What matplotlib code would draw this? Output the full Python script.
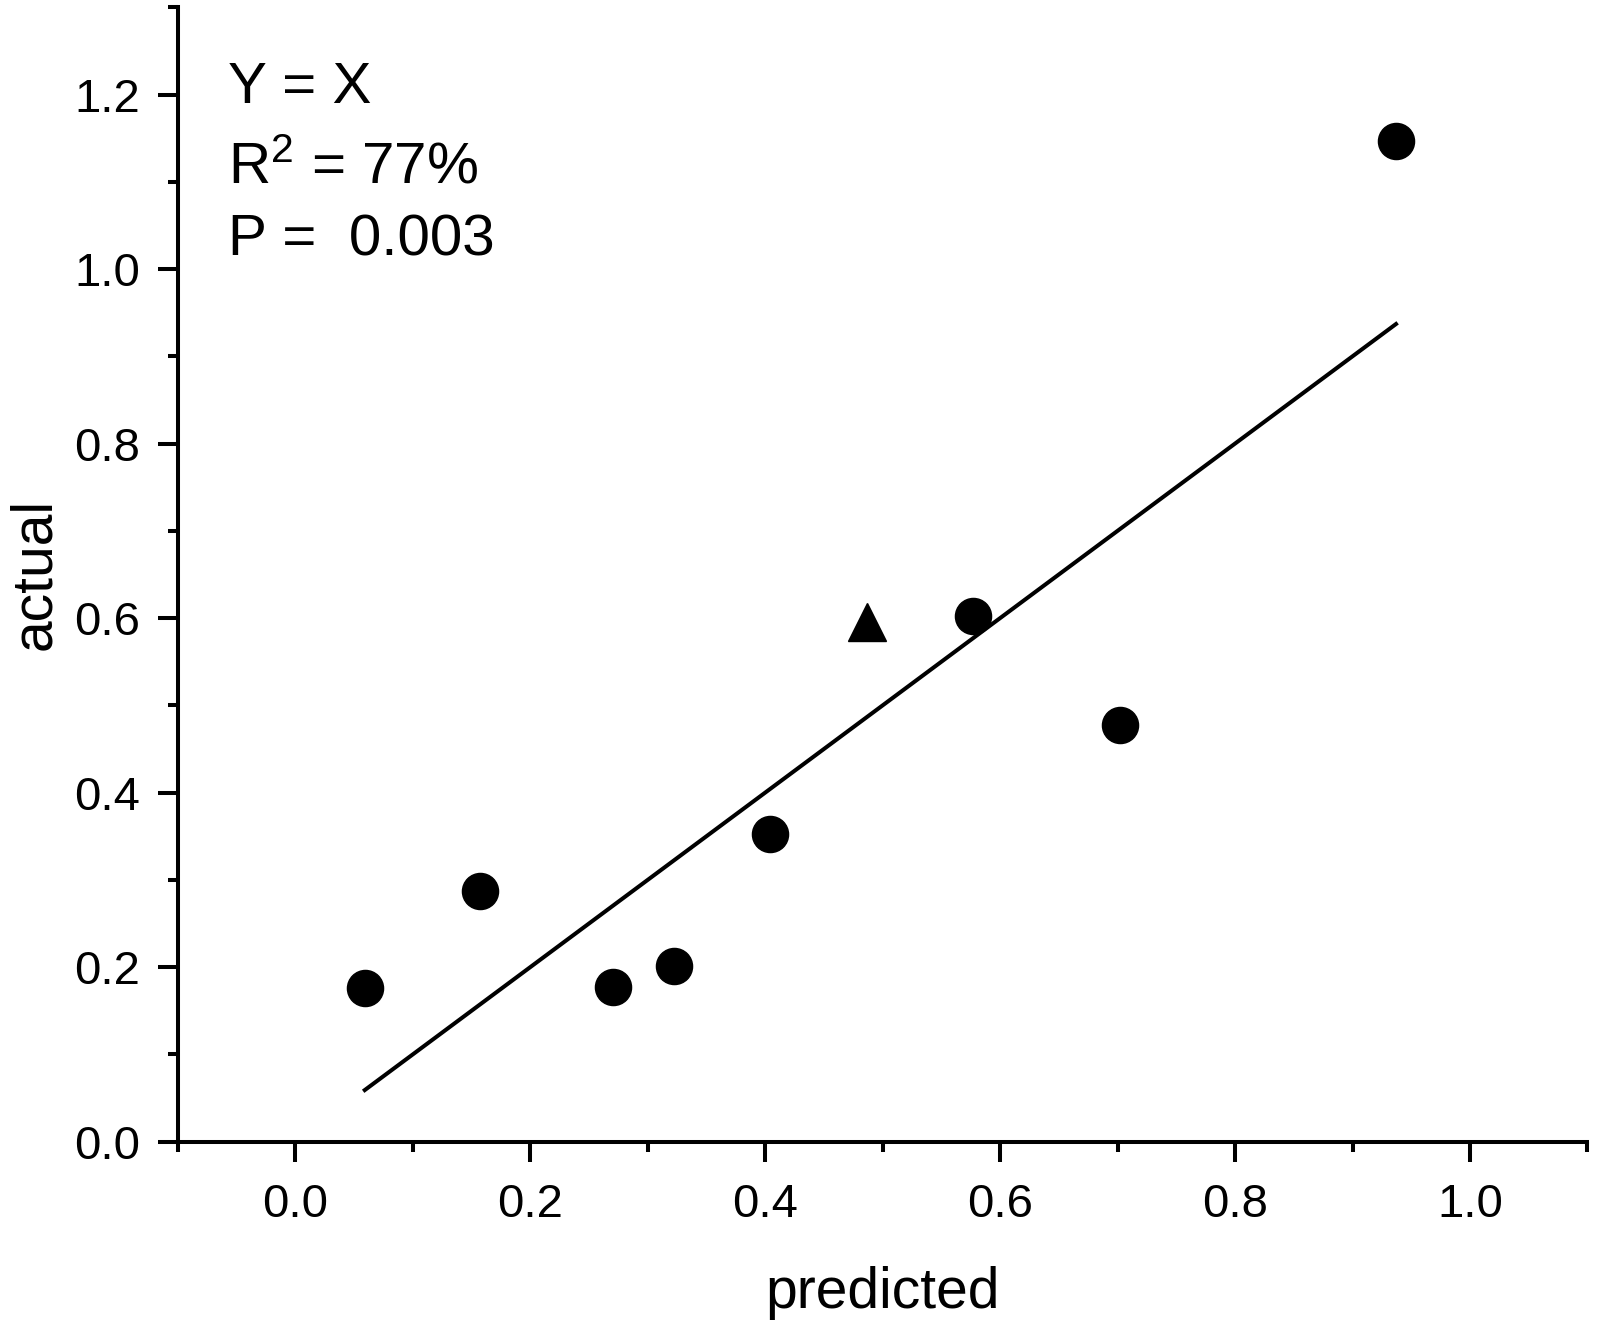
import numpy as np
import matplotlib
matplotlib.use("Agg")
import matplotlib.pyplot as plt
from matplotlib.ticker import MultipleLocator

plt.rcParams["font.family"] = ["Liberation Sans", "DejaVu Sans"]
plt.rcParams["mathtext.fontset"] = "custom"
plt.rcParams["mathtext.rm"] = "Liberation Sans"
plt.rcParams["mathtext.it"] = "Liberation Sans:italic"

# measured points (circles) and the single triangle point
predicted = [0.059, 0.157, 0.270, 0.322, 0.404, 0.577, 0.702, 0.937]
actual = [0.176, 0.287, 0.177, 0.201, 0.353, 0.602, 0.477, 1.147]
tri_predicted = [0.487]
tri_actual = [0.595]

annot_lines = ["Y = X", r"R$^\mathrm{2}$ = 77%", "P =  0.003"]
LW = 2.9

fig = plt.figure(figsize=(15.98, 13.26), dpi=100)
ax = fig.add_axes([0.1114, 0.1391, 0.882, 0.8554])

# Y = X reference line over the range of predicted values
x_line = np.array([min(predicted), max(predicted)])
ax.plot(x_line, x_line, color="black", linewidth=LW, zorder=2)

ax.plot(predicted, actual, "o", color="black", markersize=26, zorder=3)
ax.plot(tri_predicted, tri_actual, "^", color="black", markersize=27, zorder=3)

ax.set_xlim(-0.1, 1.1)
ax.set_ylim(0.0, 1.3)
ax.set_xticks(np.arange(-0.1, 1.15, 0.2), minor=True)
ax.set_yticks(np.arange(0.1, 1.35, 0.2), minor=True)
ax.set_xticks(np.arange(0.0, 1.05, 0.2))
ax.set_yticks(np.arange(0.0, 1.25, 0.2))
ax.set_xticklabels([f"{v:.1f}" for v in np.arange(0.0, 1.05, 0.2)])
ax.set_yticklabels([f"{v:.1f}" for v in np.arange(0.0, 1.25, 0.2)])

for side in ["top", "right"]:
    ax.spines[side].set_visible(False)
for side in ["left", "bottom"]:
    ax.spines[side].set_linewidth(LW)

ax.tick_params(which="major", direction="out", length=14.5, width=LW,
               labelsize=34)
ax.tick_params(axis="x", which="major", pad=15)
ax.tick_params(axis="y", which="major", pad=13)
ax.tick_params(which="minor", direction="out", length=7, width=LW)

ax.set_xlabel("predicted", fontsize=41)
ax.set_ylabel("actual", fontsize=41)
ax.xaxis.set_label_coords(0.5, -0.110)
ax.yaxis.set_label_coords(-0.082, 0.5)

for txt, yf in zip(annot_lines, [0.9156, 0.845, 0.7816]):
    ax.text(0.0355, yf, txt, transform=ax.transAxes, fontsize=42,
            ha="left", va="baseline")

fig.savefig("out.png", dpi=100)
